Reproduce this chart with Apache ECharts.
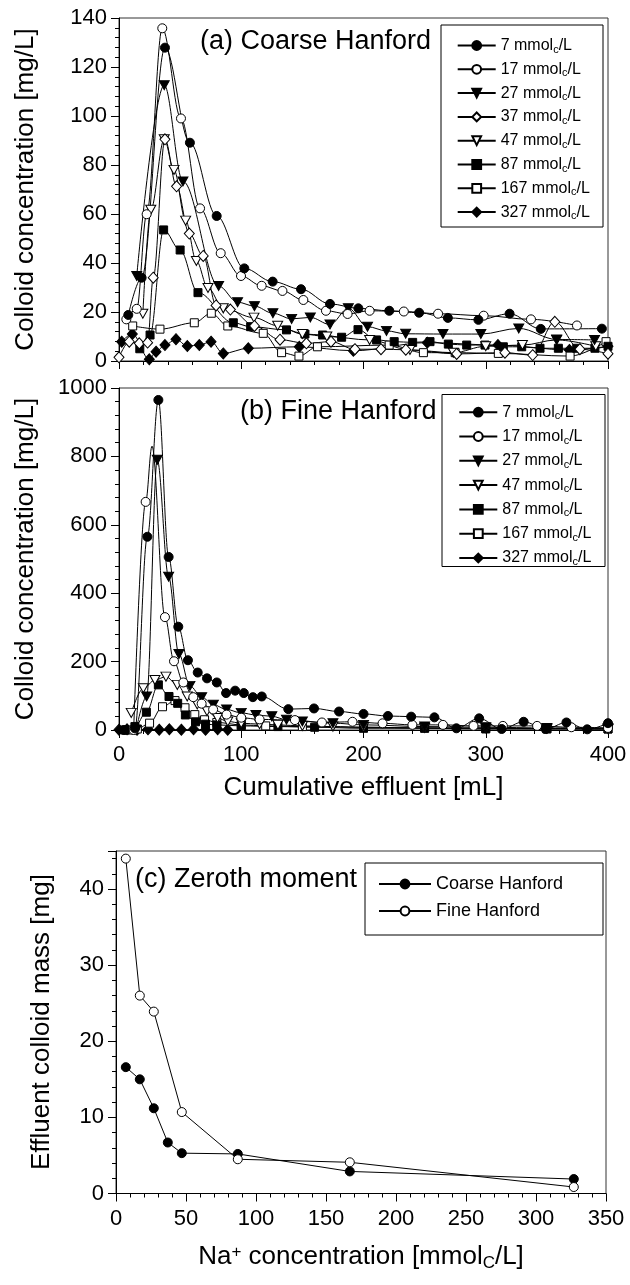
<!DOCTYPE html>
<html><head><meta charset="utf-8">
<script src="https://cdn.jsdelivr.net/npm/echarts/dist/echarts.min.js"></script>
<style>html,body{margin:0;padding:0;background:#fff}#c{width:630px;height:1285px}</style>
</head><body><div id="c"></div>
<script>
// ---------- Panel (a) Coarse Hanford : [cumulative effluent mL, colloid mg/L]
const coarse7 = [[7.6,18.8],[18.5,34],[37.6,127.9],[58,89.1],[79.9,59.2],[102.5,37.8],[125.7,32.4],[148.9,29.3],[172.6,23.3],[195.8,21.5],[221.1,20.5],[245.5,19.7],[269,17.6],[294,16.8],[319.5,19.3],[345,13.1],[395,13.2]];
const coarse17 = [[6,17],[14.5,21.3],[22.6,59.9],[35.4,135.8],[50.7,99],[66.3,62.3],[83.2,44],[99.8,34.7],[116.7,30.7],[133.7,28.6],[150.8,24.9],[169.3,20.5],[187,19.2],[205,20.5],[233,20.2],[261,19.3],[298.3,18.5],[337,17],[374.6,14.5]];
const coarse27 = [[14.5,34.7],[37,112.6],[52.3,73.3],[81.5,30.6],[97,24],[110.8,22.4],[125.9,19.5],[141.2,17.2],[156.5,17.8],[172.6,14.9],[187.6,21.5],[203.3,14],[218.8,12.3],[234.5,11.1],[265,11],[296,11],[327,13.3],[358,8.8],[389,8.6]];
const coarse37 = [[0,1.5],[8.4,7.9],[16.6,7.2],[23.4,7.5],[28,34],[37.6,90.5],[47.1,71.3],[57.5,52],[68.9,42.9],[79.4,22.7],[91.1,21],[110.8,14.3],[131.7,8.7],[153.3,7.2],[173.4,7.9],[193,4.8],[214.3,4.8],[234.6,4.6],[276.2,2.9],[315.7,3.4],[338.4,2.4],[356.5,16],[377,4.8],[400,3]];
const coarse47 = [[19.5,19.3],[26,61.7],[37,90.5],[45,78],[54.5,57.3],[63.3,40.8],[72.8,29.8],[85.3,21.5],[110.4,17.7],[129.8,14.4],[150,11],[170,10],[205,8.6],[238,4.5],[273.5,3.4],[300,6],[330,6.5],[358,8.6],[390,6]];
const coarse87 = [[17,5],[25.4,10.6],[36.5,53.5],[50,45.3],[64.6,27.9],[93.5,15.6],[107.7,14],[137,12.7],[152.1,11],[166.6,10.6],[182.1,9.7],[195.5,12.8],[210.7,8.6],[225.1,7.9],[240.2,7.6],[254.4,7.9],[269.4,6.9],[284.4,6.5],[299.4,6.5],[314.4,5.8],[329.4,5.8],[344.4,5.2],[359.4,5.2],[374.4,5.2],[389.3,5.2],[400,6]];
const coarse167 = [[11.2,14.3],[33.5,13],[61.6,15.6],[75.5,19.5],[89,14.3],[118,11.3],[133,3.4],[147.2,2],[162.3,5.8],[221,6.5],[249,3.4],[275,3.4],[310.3,3.1],[369,2],[398.4,7.9]];
const coarse327 = [[2.2,7.9],[10.9,11],[24.8,0.7],[30.3,3.8],[37.6,6.5],[46.6,8.9],[55.9,6.1],[65.7,6.5],[75.3,7.9],[85.3,3.1],[105.8,5.2],[147.5,5.8],[191.7,4.2],[252.2,7.5],[310,6.5],[368.4,4.5],[400,6]];

// ---------- Panel (b) Fine Hanford
const fine7 = [[4,0],[13,5],[23.2,565],[32.2,965],[40.6,506],[48.5,302],[56.4,204],[64.4,168],[72,151],[80,139],[87.6,108],[95,115],[102.1,108],[109.5,96],[116.8,98],[138.5,61],[159.5,63],[180,54],[200,47],[220,41],[239,39],[258,37],[276,5],[294.6,34],[313,3],[331,24],[349,3],[366,22],[383,2],[400,20]];
// the curve apex of the 17 mmol run (no marker drawn there in the original)
const fine17Apex = [27,830];
const fine17 = [[12,0],[21.8,667],fine17Apex,[37.6,330],[45,201],[52.6,139],[60.8,96],[67.6,77],[77,60],[88,45],[100,36],[115,31],[143.9,29],[166,22],[191,24],[215.6,19.5],[240,15],[265,15],[290,12],[314,12],[342,12],[370,8],[400,6]];
const fine27 = [[14,0],[22.6,98],[31.3,790],[40.6,448],[49,222],[58,129],[67.6,96],[77.2,74],[88,60],[100,50],[112,44],[125,40],[137,30],[150,25],[175,20],[200,15],[250,10],[300,8],[350,6],[400,5]];
const fine47 = [[10,50],[19.9,122],[29.4,146],[38.4,156],[47.7,132],[55.8,98],[64,75],[72,55],[80.6,35],[89,25],[100,20],[115,17],[130,15],[150,12],[175,10],[200,8],[250,6],[300,5],[350,4],[400,3]];
const fine87 = [[5,0],[13,10],[22.4,52],[32.2,132],[40.9,98],[48,78],[54.3,44],[62.6,24],[70.8,17],[80,15],[100,12],[130,10],[160,8],[200,5],[250,5],[300,3],[350,3],[400,3]];
const fine167 = [[8,0],[15,3],[25,20],[35.6,68],[45.8,86],[54,65],[62,45],[70,30],[80,22],[100,15],[120,12],[150,10],[200,8],[250,6],[300,5],[350,4],[400,3]];
const fine327 = [[0,1],[6.6,2],[14.8,1],[23.7,2],[32.9,1],[41.2,2],[51,1],[61,2],[70.8,1],[80.7,2],[88.9,1]];

// ---------- Panel (c) Zeroth moment
const naCoarse = [7,17,27,37,47,87,167,327];
const massCoarse = [16.6,15.0,11.2,6.7,5.3,5.2,2.9,1.9];
const naFine = [7,17,27,47,87,167,327];
const massFine = [44.0,26.0,23.9,10.7,4.5,4.1,0.85];

const legendA = ['7','17','27','37','47','87','167','327'];
const legendB = ['7','17','27','47','87','167','327'];

const FONT = '"Liberation Sans", Arial, Helvetica, sans-serif';
const DOWN = 'path://M0,0L10,0L5,9Z';
const STY = {
  '7':   {symbol:'circle',  size:9,       fill:'#000'},
  '17':  {symbol:'circle',  size:9,       fill:'#fff'},
  '27':  {symbol:DOWN,      size:[10,9],  fill:'#000'},
  '37':  {symbol:'diamond', size:[10,11], fill:'#fff'},
  '47':  {symbol:DOWN,      size:[10,9],  fill:'#fff'},
  '87':  {symbol:'rect',    size:8,       fill:'#000'},
  '167': {symbol:'rect',    size:8,       fill:'#fff'},
  '327': {symbol:'diamond', size:[10,11], fill:'#000'}
};

function pairSeries(name, data, idx, smooth, apex) {
  const s = STY[name];
  return {
    type:'line', name:name,
    data:data.map(p => (p === apex) ? {value:p, symbol:'none'} : p),
    xAxisIndex:idx, yAxisIndex:idx,
    smooth: smooth, smoothMonotone:'x',
    symbol:s.symbol, symbolSize:s.size, showSymbol:true,
    lineStyle:{color:'#000', width:1},
    itemStyle:{color:s.fill, borderColor:'#000', borderWidth:1},
    emphasis:{disabled:true}, animation:false, clip:true
  };
}

const series = [];
const aData = {'7':coarse7,'17':coarse17,'27':coarse27,'37':coarse37,'47':coarse47,'87':coarse87,'167':coarse167,'327':coarse327};
const bData = {'7':fine7,'17':fine17,'27':fine27,'47':fine47,'87':fine87,'167':fine167,'327':fine327};
legendA.slice().reverse().forEach(n => series.push(pairSeries(n, aData[n], 0, 0.35)));
legendB.slice().reverse().forEach(n => series.push(pairSeries(n, bData[n], 1, 0.35, fine17Apex)));
series.push({
  type:'line', name:'Coarse Hanford', data: naCoarse.map((x,i)=>[x, massCoarse[i]]),
  xAxisIndex:2, yAxisIndex:2, symbol:'circle', symbolSize:9,
  lineStyle:{color:'#000', width:1}, itemStyle:{color:'#000', borderColor:'#000', borderWidth:1},
  emphasis:{disabled:true}, animation:false
});
series.push({
  type:'line', name:'Fine Hanford', data: naFine.map((x,i)=>[x, massFine[i]]),
  xAxisIndex:2, yAxisIndex:2, symbol:'circle', symbolSize:9,
  lineStyle:{color:'#000', width:1}, itemStyle:{color:'#fff', borderColor:'#000', borderWidth:1},
  emphasis:{disabled:true}, animation:false
});

function xAx(idx, max, interval, showLabel) {
  return {
    type:'value', gridIndex:idx, min:0, max:max, interval:interval,
    axisLine:{show:true, onZero:false, lineStyle:{color:'#000', width:1}},
    axisTick:{show:true, length:8, lineStyle:{color:'#000'}},
    minorTick:{show:true, splitNumber:5, length:4, lineStyle:{color:'#000'}},
    splitLine:{show:false}, minorSplitLine:{show:false},
    axisLabel:{show:showLabel, fontSize:22, fontFamily:FONT, color:'#000', margin:14}
  };
}
function yAx(idx, max, interval, hideMax) {
  return {
    type:'value', gridIndex:idx, min:0, max:max, interval:interval,
    axisLine:{show:true, onZero:false, lineStyle:{color:'#000', width:1}},
    axisTick:{show:true, length:8, lineStyle:{color:'#000'}},
    minorTick:{show:true, splitNumber:5, length:4, lineStyle:{color:'#000'}},
    splitLine:{show:false}, minorSplitLine:{show:false},
    axisLabel:{show:true, fontSize:22, fontFamily:FONT, color:'#000', margin:12,
      formatter: v => (hideMax && v === max) ? '' : String(v)}
  };
}

function grid(l, t, w, h) {
  return {left:l, top:t, width:w, height:h, show:true, borderColor:'#333', borderWidth:1,
    backgroundColor:'transparent', containLabel:false, outerBoundsMode:'none'};
}

const mmolText = n => n + ' mmol{s|c}/L';
function concLegend(names, left, top, gap) {
  return {
    show:true, orient:'vertical', left:left, top:top, padding:0,
    itemWidth:38, itemHeight:11, itemGap:gap, selectedMode:false,
    data:names, formatter:mmolText,
    textStyle:{fontFamily:FONT, fontSize:16, color:'#000', lineHeight:18,
      rich:{s:{fontFamily:FONT, fontSize:11, color:'#000', lineHeight:11, padding:[8,0,0,0]}}}
  };
}

function txt(x, y, text, opts) {
  return Object.assign({
    type:'text', x:x, y:y, z:10, silent:true,
    style:Object.assign({text:text, fontFamily:FONT, fontSize:26, fill:'#000',
      align:'left', verticalAlign:'middle'}, (opts && opts.style) || {})
  }, opts && opts.el ? opts.el : {});
}

const option = {
  animation:false,
  backgroundColor:'#fff',
  grid:[grid(119,18,489,343), grid(119,388,489,342), grid(116,851,490,342.5)],
  xAxis:[xAx(0,400,100,false), xAx(1,400,100,true), xAx(2,350,50,true)],
  yAxis:[yAx(0,140,20,false), yAx(1,1000,200,false), yAx(2,45,10,true)],
  legend:[
    concLegend(legendA, 456.7, 36, 4.8),
    concLegend(legendB, 458.3, 402.7, 5.3),
    {show:true, orient:'vertical', left:378, top:874, padding:0, itemWidth:52, itemHeight:11, itemGap:7,
     selectedMode:false, data:['Coarse Hanford','Fine Hanford'],
     textStyle:{fontFamily:FONT, fontSize:18, color:'#000', lineHeight:20}}
  ],
  series:series,
  graphic:[
    {type:'rect', z:3, silent:true, shape:{x:441, y:25, width:162, height:202}, style:{fill:'#fff', stroke:'#000', lineWidth:1}},
    {type:'rect', z:3, silent:true, shape:{x:442, y:394.5, width:163, height:172}, style:{fill:'#fff', stroke:'#000', lineWidth:1}},
    {type:'rect', z:3, silent:true, shape:{x:365, y:863, width:238, height:72}, style:{fill:'#fff', stroke:'#000', lineWidth:1}},
    txt(200, 41.7, '(a) Coarse Hanford', {style:{fontSize:27}}),
    txt(240, 411.7, '(b) Fine Hanford', {style:{fontSize:27}}),
    txt(135, 880, '(c) Zeroth moment', {style:{fontSize:27}}),
    txt(26, 189.5, 'Colloid concentration [mg/L]', {style:{align:'center'}, el:{rotation:Math.PI/2}}),
    txt(26, 559, 'Colloid concentration [mg/L]', {style:{align:'center'}, el:{rotation:Math.PI/2}}),
    txt(42, 1022, 'Effluent colloid mass [mg]', {style:{align:'center'}, el:{rotation:Math.PI/2}}),
    txt(363.5, 788, 'Cumulative effluent [mL]', {style:{align:'center'}}),
    txt(361, 1257, 'Na{sup|+} concentration [mmol{sub|C}/L]', {style:{align:'center',
      rich:{sup:{fontFamily:FONT, fontSize:17, fill:'#000', lineHeight:17, padding:[0,0,10,0]},
            sub:{fontFamily:FONT, fontSize:17, fill:'#000', lineHeight:17, padding:[12,0,0,0]}}}})
  ]
};

const chart = echarts.init(document.getElementById('c'), null, {renderer:'canvas', width:630, height:1285});
chart.setOption(option);
</script></body></html>
